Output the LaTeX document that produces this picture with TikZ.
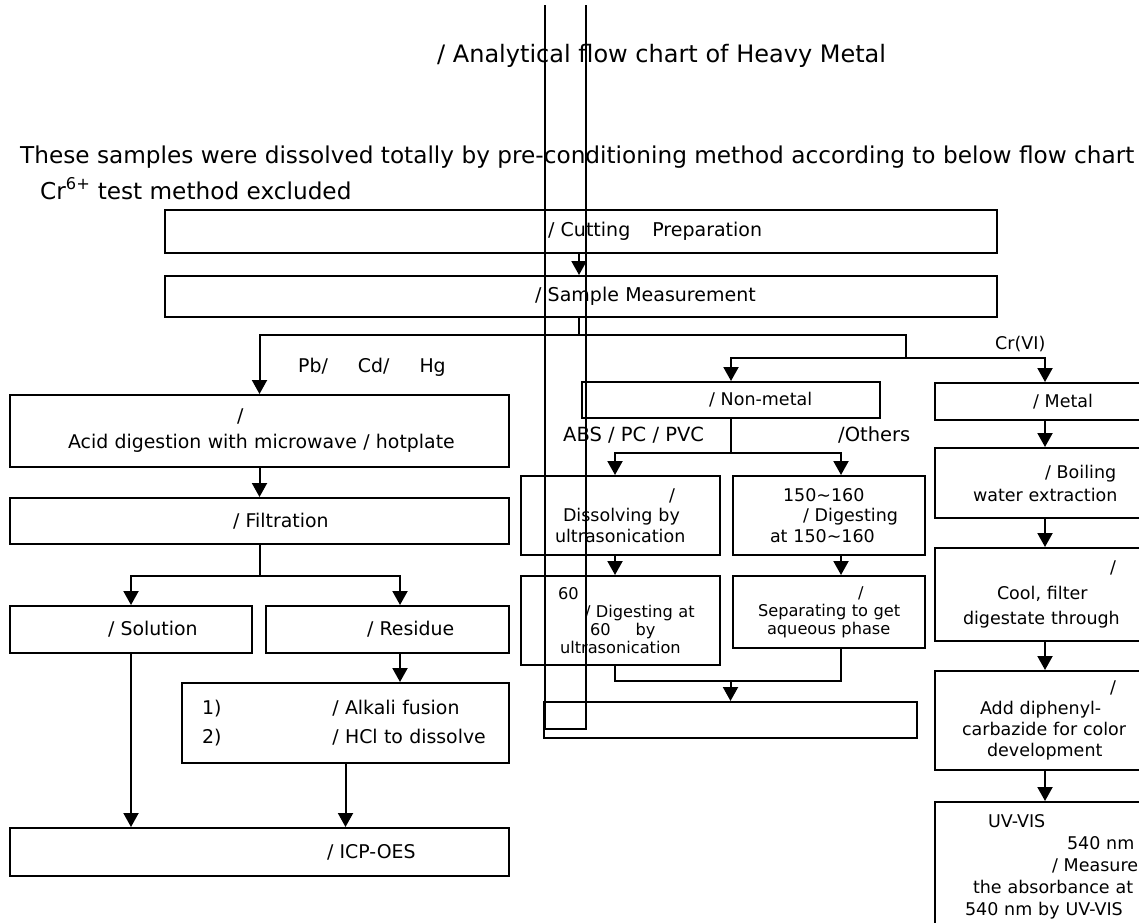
\documentclass[tikz,border=0pt]{standalone}
\usepackage{fontspec}
\setmainfont{DejaVu Sans}
\usetikzlibrary{arrows.meta}

\newcommand{\fsbox}{\fontsize{17.5}{21}\selectfont}
\newcommand{\fsleft}{\fontsize{18.9}{23}\selectfont}
\newcommand{\fssmall}{\fontsize{16.2}{18}\selectfont}
\newcommand{\fstop}{\fontsize{19}{23}\selectfont}
\newcommand{\fshead}{\fontsize{23.2}{28}\selectfont}

\tikzset{
  box/.style={draw, line width=2pt, inner sep=0pt, align=left, font=\fsbox},
  arr/.style={line width=2pt, -{Triangle[length=14pt,width=15pt]}},
  link/.style={line width=2pt},
  lbl/.style={anchor=base west, inner sep=0pt, font=\fsbox},
}

\begin{document}
\begin{tikzpicture}[x=1pt, y=-1pt]
\useasboundingbox (0,0) rectangle (1139,922);

% heading
\node (title) at (437,62) [lbl, font=\fontsize{24}{28}\selectfont] {/ Analytical flow chart of Heavy Metal};
\node (note) at (20,163) [lbl, font=\fshead] {These samples were dissolved totally by pre-conditioning method according to below flow chart};
\node (excl) at (40,199) [lbl, font=\fshead] {Cr\textsuperscript{6+} test method excluded};

% top boxes
\node (cut) at (581,231.5) [box, font=\fstop, text width=832pt, minimum height=43pt] {\hspace*{383pt}/ Cutting\hspace*{22pt}Preparation};
\node (meas) at (581,296.5) [box, font=\fstop, text width=832pt, minimum height=41pt] {\hspace*{370pt}/ Sample Measurement};

% Pb / Cd / Hg
\node (acid) at (259.5,431) [box, font={\fontsize{18.9}{26}\selectfont}, text width=499pt, minimum height=72pt] {\hspace*{227pt}/\\\hspace*{58pt}Acid digestion with microwave / hotplate};
\node (filt) at (259.5,521) [box, font=\fsleft, text width=499pt, minimum height=46pt] {\hspace*{223pt}/ Filtration};
\node (sol) at (131,629.5) [box, font=\fsleft, text width=242pt, minimum height=47pt] {\hspace*{98pt}/ Solution};
\node (res) at (387.5,629.5) [box, font=\fsleft, text width=243pt, minimum height=47pt] {\hspace*{101pt}/ Residue};
\node (alk) at (345.5,723) [box, font={\fontsize{18.9}{29}\selectfont}, text width=327pt, minimum height=80pt] {\hspace*{20pt}1)\hspace*{111pt}/ Alkali fusion\\\hspace*{20pt}2)\hspace*{111pt}/ HCl to dissolve};
\node (icp) at (259.5,852) [box, font=\fsleft, text width=499pt, minimum height=48pt] {\hspace*{317pt}/ ICP-OES};

% non-metal
\node (nonm) at (731,400) [box, text width=298pt, minimum height=36pt] {\hspace*{127pt}/ Non-metal};
\node (diss) at (620.5,515.5) [box, font={\fontsize{17.5}{20.5}\selectfont}, text width=199pt, minimum height=79pt] {\hspace*{148pt}/\\\hspace*{42pt}Dissolving by\\\hspace*{34pt}ultrasonication};
\node (dig) at (829,515.5) [box, font={\fontsize{17.5}{20.5}\selectfont}, text width=192pt, minimum height=79pt] {\hspace*{50pt}150\textasciitilde160\\\hspace*{70pt}/ Digesting\\\hspace*{37pt}at 150\textasciitilde160};
\node (dig60) at (620.5,620.5) [box, font=\fssmall, text width=199pt, minimum height=89pt] {\hspace*{37pt}60\\\hspace*{64pt}/ Digesting at\\\hspace*{69pt}60\hspace*{25pt}by\\\hspace*{39pt}ultrasonication};
\node (sep) at (829,612) [box, font=\fssmall, text width=192pt, minimum height=72pt] {\hspace*{125pt}/\\\hspace*{25pt}Separating to get\\\hspace*{34pt}aqueous phase};
\node (fin) at (730.5,720) [box, text width=373pt, minimum height=36pt] {};

% metal
\node (metal) at (1045,401.5) [box, text width=220pt, minimum height=37pt] {\hspace*{98pt}/ Metal};
\node (boil) at (1045,483) [box, font={\fontsize{17.5}{23}\selectfont}, text width=220pt, minimum height=70pt] {\hspace*{110pt}/ Boiling\\\hspace*{38pt}water extraction};
\node (cool) at (1045,594.5) [box, font={\fontsize{17.5}{25.5}\selectfont}, text width=220pt, minimum height=93pt] {\hspace*{175pt}/\\\hspace*{62pt}Cool, filter\\\hspace*{28pt}digestate through};
\node (add) at (1045,720.5) [box, text width=220pt, minimum height=99pt] {\hspace*{175pt}/\\\hspace*{45pt}Add diphenyl-\\\hspace*{27pt}carbazide for color\\\hspace*{52pt}development};
\node (uv) at (1045,866.5) [box, font={\fontsize{17.5}{22}\selectfont}, text width=220pt, minimum height=129pt] {\hspace*{53pt}UV-VIS\\\hspace*{132pt}540 nm\\\hspace*{117pt}/ Measure\\\hspace*{38pt}the absorbance at\\\hspace*{30pt}540 nm by UV-VIS};

% branch labels
\node (pbl) at (298,372) [lbl, font=\fsleft] {Pb/\hspace*{30pt}Cd/\hspace*{30pt}Hg};
\node (absl) at (563,441) [lbl, font=\fontsize{19.5}{23}\selectfont] {ABS / PC / PVC};
\node (othl) at (838,441) [lbl, font=\fontsize{19.5}{23}\selectfont] {/Others};
\node (crl) at (995,349) [lbl] {Cr(VI)};

% branch points
\coordinate (splitA) at (579,335);
\coordinate (splitB) at (906,358);
\coordinate (splitC) at (259.5,576);
\coordinate (splitD) at (731,453);
\coordinate (splitE) at (730.5,681);
\coordinate (colL) at (615,0);
\coordinate (colR) at (841,0);
\coordinate (colS) at (400,0);

% connectors
\draw[arr] (cut.south -| splitA) -- (meas.north -| splitA);
\draw[link] (meas.south -| splitA) -- (splitA) -| (splitB);
\draw[arr] (splitA) -| (acid.north);
\draw[arr] (splitB) -| (nonm.north);
\draw[arr] (splitB) -| (metal.north);

\draw[arr] (acid.south) -- (filt.north);
\draw[link] (filt.south) -- (splitC);
\draw[arr] (splitC) -| (sol.north);
\draw[arr] (splitC) -| (res.north -| colS);
\draw[arr] (res.south -| colS) -- (alk.north -| colS);
\draw[arr] (sol.south) -- (sol.south |- icp.north);
\draw[arr] (alk.south) -- (alk.south |- icp.north);

\draw[link] (nonm.south) -- (splitD);
\draw[arr] (splitD) -| (diss.north -| colL);
\draw[arr] (splitD) -| (dig.north -| colR);
\draw[arr] (diss.south -| colL) -- (dig60.north -| colL);
\draw[arr] (dig.south -| colR) -- (sep.north -| colR);
\draw[link] (dig60.south -| colL) |- (splitE) -| (sep.south -| colR);
\draw[arr] (splitE) -- (fin.north);

\foreach \a/\b in {metal/boil, boil/cool, cool/add, add/uv}
  \draw[arr] (\a.south) -- (\b.north);

% open frame over the middle
\draw[link] (545,5) -- (545,729) -- (586,729) -- (586,5);
\end{tikzpicture}
\end{document}
